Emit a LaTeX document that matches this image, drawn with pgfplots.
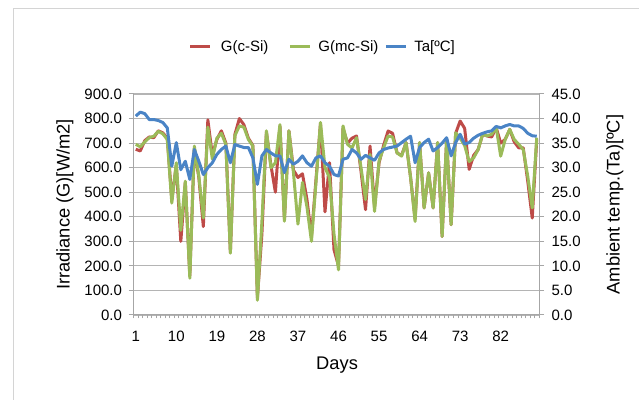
\documentclass[border=0pt]{standalone}
\usepackage{fontspec}
\setmainfont{Liberation Sans}
\usepackage{pgfplots}
\usepackage{pgfplotstable}
\pgfplotsset{compat=1.18}
\definecolor{cred}{HTML}{BE4B48}
\definecolor{cgreen}{HTML}{9BBB59}
\definecolor{cblue}{HTML}{4A84C6}
\definecolor{gridc}{HTML}{B4B4B4}
\definecolor{axc}{HTML}{A6A6A6}
\definecolor{framec}{HTML}{D4D4D4}

\pgfplotstableread{
d g1 g2 t
1 675 695 40.5
2 668 685 41.3
3 710 705 41.0
4 725 722 39.8
5 722 728 39.8
6 750 748 39.6
7 742 738 39.2
8 720 715 38.1
9 470 456 30.3
10 610 620 35.1
11 300 345 29.6
12 540 545 31.3
13 160 150 27.6
14 680 688 33.7
15 560 565 31.3
16 360 395 28.6
17 795 765 30.0
18 650 635 31.0
19 715 720 32.7
20 750 740 33.7
21 700 695 34.4
22 255 252 31.0
23 735 730 34.7
24 800 770 34.4
25 775 765 34.1
26 720 715 34.1
27 690 688 32.0
28 70 60 26.6
29 330 380 32.4
30 745 750 33.7
31 610 600 33.0
32 500 620 32.4
33 770 775 32.4
34 390 382 29.0
35 750 750 31.7
36 590 580 30.7
37 560 370 31.3
38 575 540 32.4
39 470 440 31.0
40 320 300 30.3
41 550 540 32.0
42 780 784 32.4
43 420 600 31.0
44 620 560 30.3
45 266 330 28.6
46 200 184 28.3
47 760 770 31.7
48 700 695 32.0
49 720 680 33.7
50 729 722 33.0
51 585 600 31.7
52 429 470 32.5
53 688 654 32.0
54 440 422 31.5
55 620 627 33.0
56 690 680 33.7
57 749 729 34.0
58 740 725 34.2
59 660 660 34.4
60 650 647 35.1
61 702 702 35.8
62 560 560 36.4
63 390 381 31.0
64 702 702 34.1
65 436 436 35.1
66 579 579 35.8
67 436 436 33.4
68 702 702 34.1
69 320 320 35.0
70 715 715 36.1
71 368 368 32.4
72 740 742 35.1
73 790 720 36.8
74 760 690 34.8
75 593 625 35.1
76 650 640 36.0
77 674 674 36.6
78 736 736 37.0
79 729 729 37.3
80 725 736 37.5
81 763 763 38.4
82 700 647 38.1
83 715 715 38.5
84 756 756 38.8
85 705 715 38.5
86 681 695 38.5
87 681 674 38.0
88 545 565 37.0
89 395 436 36.5
90 715 722 36.4
}\data

\newcommand{\tickfont}{\fontsize{15bp}{18bp}\selectfont}
\newcommand{\titlefont}{\fontsize{18.3bp}{22bp}\selectfont}

\pgfplotsset{
  base/.style={
    at={(133.5bp,85bp)}, anchor=south west,
    scale only axis, width=405.5bp, height=221bp,
    xmin=0.5, xmax=90.5,
    axis line style={-, axc, line width=1bp},
    tick align=outside,
    major tick length=5bp, minor tick length=3.5bp,
    /pgf/number format/assume math mode=true,
    ticklabel style={font=\tickfont},
  }
}

\begin{document}
\begin{tikzpicture}
\path[use as bounding box] (0bp,0bp) rectangle (639bp,400bp);
\draw[framec, line width=1bp] (13.5bp,0bp) -- (13.5bp,391bp) -- (639bp,391bp);

\begin{axis}[base,
  ymin=0, ymax=900,
  axis y line*=left, axis x line*=bottom,
  xtick={1,10,...,82},
  major x tick style={draw=none},
  minor xtick={0.5,1.5,...,90.5},
  minor x tick style={axc, line width=0.8bp},
  xticklabel style={yshift=-8bp},
  ytick={0,100,...,900},
  y tick style={axc, line width=1bp},
  yticklabel style={xshift=-3bp},
  yticklabel={\pgfmathprintnumber[fixed,fixed zerofill,precision=1]{\tick}},
  ymajorgrids, major grid style={gridc, line width=1.2bp},
  every axis y label/.style={at={(axis description cs:-0.169,0.5)}, rotate=90, anchor=center, font=\titlefont},
  every axis x label/.style={at={(axis description cs:0.502,-0.226)}, anchor=center, font=\titlefont},
  ylabel={Irradiance (G)[W/m2]},
  xlabel={Days},
  line join=round,
]
\addplot[cred, line width=3bp] table[x=d, y=g1] {\data};
\addplot[cgreen, line width=3bp] table[x=d, y=g2] {\data};
\end{axis}

\begin{axis}[base,
  ymin=0, ymax=45,
  axis y line*=right, axis x line=none,
  ytick={0,5,...,45},
  y tick style={axc, line width=1bp},
  yticklabel style={xshift=4bp},
  yticklabel={\pgfmathprintnumber[fixed,fixed zerofill,precision=1]{\tick}},
  every axis y label/.style={at={(axis description cs:1.187,0.5)}, rotate=90, anchor=center, font=\titlefont},
  ylabel={Ambient temp.(Ta)[ºC]},
  legend columns=3,
  legend style={at={(axis description cs:0.467,1.215)}, anchor=center, draw=none, fill=none,
    font=\tickfont, inner sep=0pt,
    /tikz/column 1/.style={column sep=7bp},
    /tikz/column 2/.style={column sep=18bp},
    /tikz/column 3/.style={column sep=5bp},
    /tikz/column 4/.style={column sep=4bp},
    /tikz/column 5/.style={column sep=5bp}},
  legend image code/.code={\draw[#1] (0bp,0bp) -- (20bp,0bp);},
  line join=round,
]
\addlegendimage{cred, line width=3bp}
\addlegendentry{G(c-Si)}
\addlegendimage{cgreen, line width=3bp}
\addlegendentry{G(mc-Si)}
\addplot[cblue, line width=3bp] table[x=d, y=t] {\data};
\addlegendentry{Ta[ºC]}
\end{axis}
\end{tikzpicture}
\end{document}
